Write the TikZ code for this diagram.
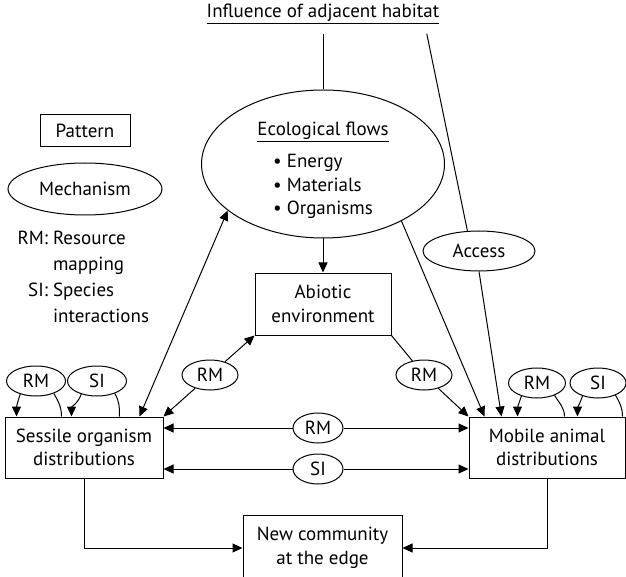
\documentclass[tikz,border=0pt]{standalone}
\usepackage{fontspec}
\setmainfont{PT Sans}
\usetikzlibrary{arrows.meta,shapes.geometric,positioning}

\begin{document}
\begin{tikzpicture}[x=1pt,y=-1pt,>={Triangle[length=10pt,width=9pt]},line width=1pt,
  font=\fontsize{19}{23.5}\selectfont,
  boxnode/.style={draw,rectangle,align=center,inner sep=0pt},
  oval/.style={draw,ellipse,inner sep=0pt,fill=white,align=center},
  tag/.style={oval,minimum width=56pt,minimum height=30pt}]
  \useasboundingbox (0,0) rectangle (626,577);

  % legend
  \node[boxnode,minimum width=90pt,minimum height=32pt] (pattern) at (85,131) {Pattern};
  \node[oval,minimum width=154pt,minimum height=52pt] (mech) at (85,189) {Mechanism};
  \node[anchor=north west,inner sep=0pt] (legend) at (17,226)
       {\def\arraystretch{1.1}\begin{tabular}{@{}r@{\ }l@{}}RM: & Resource\\ & mapping\\ SI: & Species\\ & interactions\end{tabular}};

  % top: habitat and flows
  \node[inner sep=0pt,outer ysep=10pt] (infl) at (323,14) {\underline{Influence of adjacent habitat}};
  \node[oval,minimum width=243pt,minimum height=148pt] (eco) at (323,164) {};
  \node[align=center,inner sep=0pt] (ecotext) at (323,172)
       {\underline{Ecological flows}\\[9pt]\begin{tabular}[t]{@{}l@{}}\textbullet\ Energy\\ \textbullet\ Materials\\ \textbullet\ Organisms\end{tabular}};
  \node[oval,minimum width=112pt,minimum height=40pt] (access) at (479,251) {Access};

  % middle
  \node[boxnode,minimum width=136pt,minimum height=62pt] (abio) at (323,304) {Abiotic\\environment};
  \node[tag] (rmL) at (210,375) {RM};
  \node[tag] (rmR) at (424,375) {RM};

  % the two distributions
  \node[boxnode,minimum width=158pt,minimum height=61pt] (sessile) at (84,447.5) {Sessile organism\\distributions};
  \node[boxnode,minimum width=156pt,minimum height=61pt] (mobile) at (547,447.5) {Mobile animal\\distributions};
  \node[tag,minimum width=59pt] (rmS) at (36,381) {RM};
  \node[tag,minimum width=59pt] (siS) at (97,381) {SI};
  \node[tag,minimum width=57pt] (rmM) at (537,383) {RM};
  \node[tag,minimum width=56pt] (siM) at (598,383) {SI};
  \node[tag,minimum width=50pt] (rmH) at (318,428) {RM};
  \node[tag,minimum width=50pt] (siH) at (318,469) {SI};

  \node[boxnode,minimum width=159pt,minimum height=66pt] (newc) at (322.5,548) {New community\\at the edge};

  % connectors
  \draw (infl.south) -- (eco);
  \draw ([xshift=-13pt]infl.south east) -- (access.120);
  \draw[->] (access.south) -- ([xshift=33pt]mobile.north west);
  \draw[->] (eco) -- (abio);
  \draw[<->] (eco.-154) -- ([xshift=135pt]sessile.north west);
  \draw[->] (eco.-36) -- ([xshift=16pt]mobile.north west);
  \draw[->] (rmL) -- (abio.south west);
  \draw[->] (rmL) -- (sessile.north east);
  \draw (abio.south east) -- (rmR);
  \draw[->] (rmR) -- (mobile.north west);

  % self loops
  \draw ([xshift=57pt]sessile.north west) to[out=90,in=-60] (rmS.-35);
  \draw[->] (rmS.-140) to[out=-110,in=90] ([xshift=12pt]sessile.north west);
  \draw ([xshift=115pt]sessile.north west) to[out=90,in=-60] (siS.-35);
  \draw[->] (siS.-140) to[out=-110,in=90] ([xshift=67pt]sessile.north west);
  \draw ([xshift=96pt]mobile.north west) to[out=90,in=-60] (rmM.-35);
  \draw[->] (rmM.-140) to[out=-110,in=90] ([xshift=49pt]mobile.north west);
  \draw ([xshift=154pt]mobile.north west) to[out=90,in=-60] (siM.-35);
  \draw[->] (siM.-140) to[out=-110,in=90] ([xshift=109pt]mobile.north west);

  % between the distributions
  \draw[->] (rmH) -- (rmH -| sessile.east);
  \draw[->] (rmH) -- (rmH -| mobile.west);
  \draw[->] (siH) -- (siH -| sessile.east);
  \draw[->] (siH) -- (siH -| mobile.west);

  % to the new community
  \draw[->] ([xshift=80pt]sessile.south west) |- (newc);
  \draw[->] ([xshift=79pt]mobile.south west) |- (newc);
\end{tikzpicture}
\end{document}
